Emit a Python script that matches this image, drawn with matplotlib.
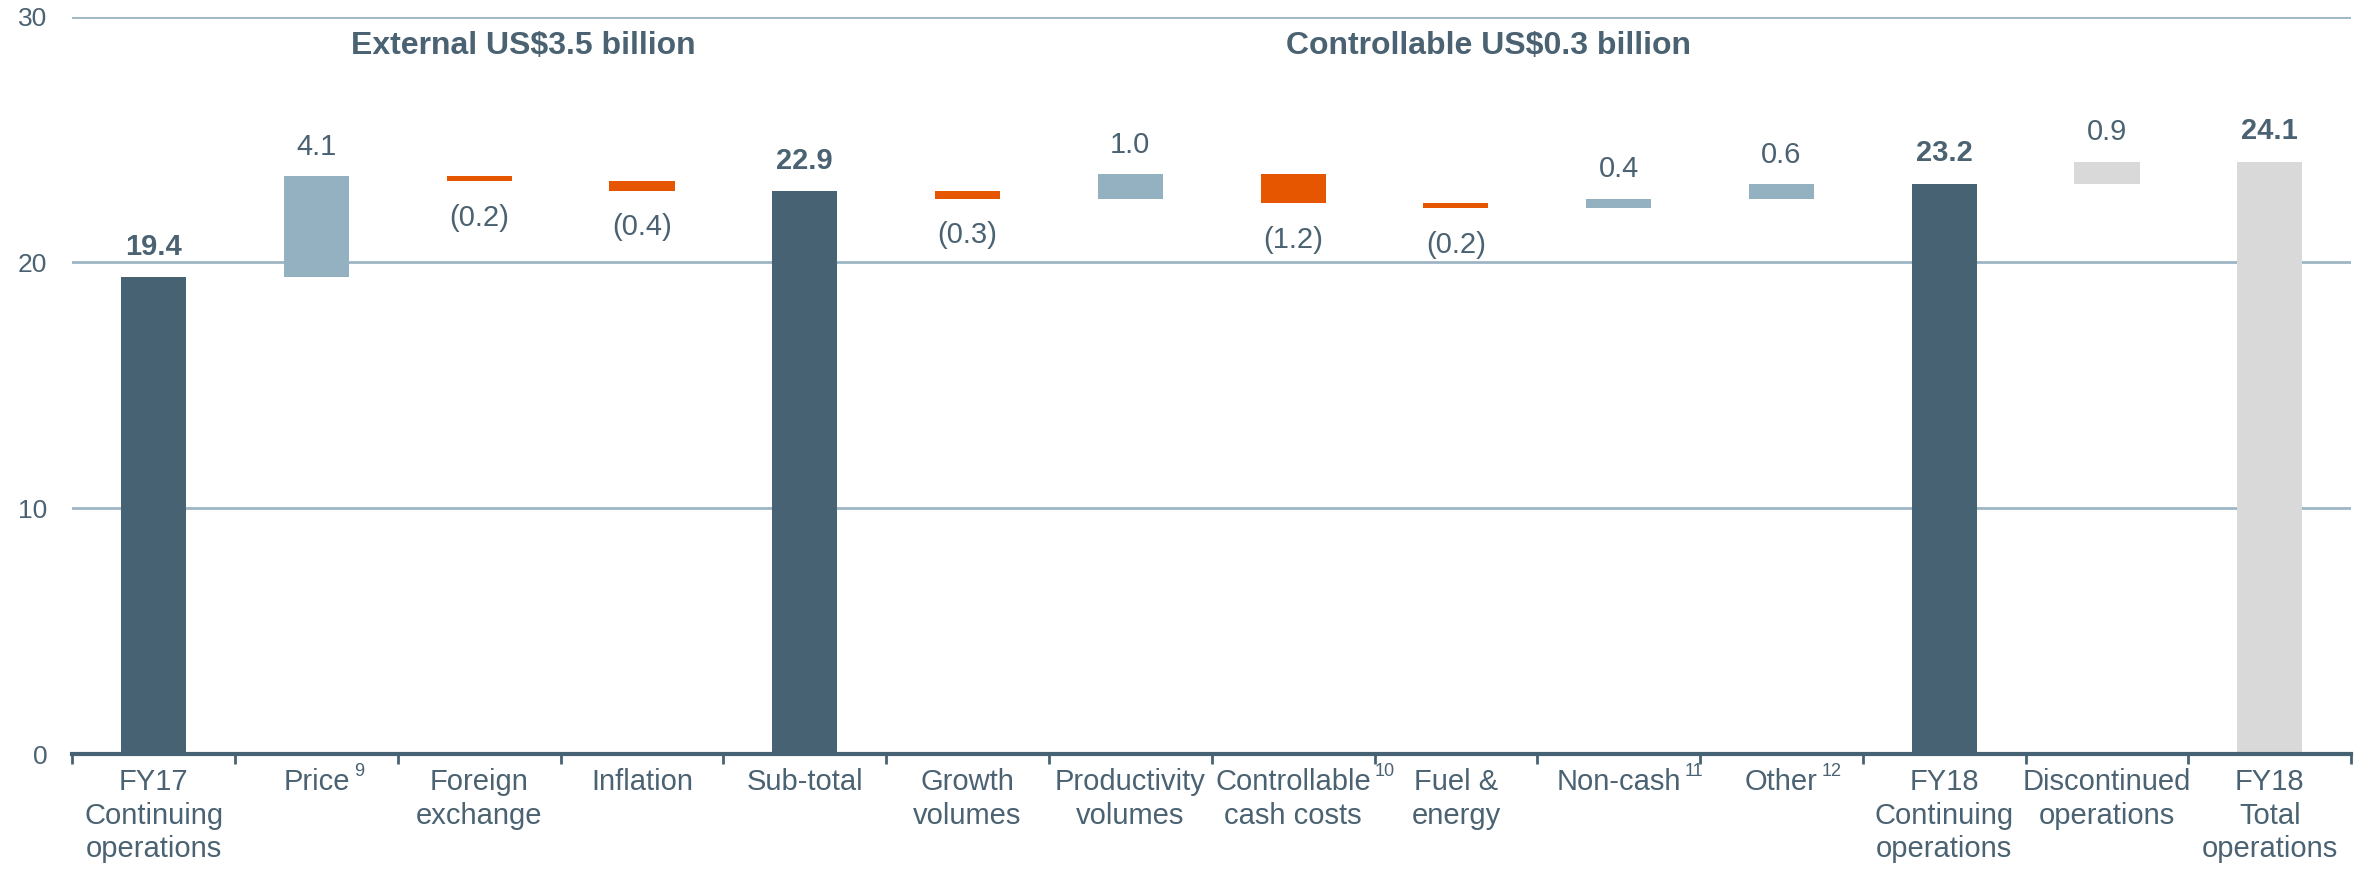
import numpy as np
import matplotlib.pyplot as plt
from matplotlib.transforms import IdentityTransform

plt.rcParams['font.family'] = ['Liberation Sans', 'DejaVu Sans']

# waterfall data (US$ billion)
labels = ['FY17\nContinuing\noperations', 'Price', 'Foreign\nexchange', 'Inflation',
          'Sub-total', 'Growth\nvolumes', 'Productivity\nvolumes',
          'Controllable\ncash costs', 'Fuel &\nenergy', 'Non-cash',
          'Other', 'FY18\nContinuing\noperations', 'Discontinued\noperations',
          'FY18\nTotal\noperations']
notes = ['', '9', '', '', '', '', '', '10', '', '11', '12', '', '', '']
values = [19.4, 4.1, -0.2, -0.4, 22.9, -0.3, 1.0, -1.2, -0.2, 0.4, 0.6, 23.2, 0.9, 24.1]
kinds = ['total', 'delta', 'delta', 'delta', 'total', 'delta', 'delta', 'delta',
         'delta', 'delta', 'delta', 'total', 'disc', 'grand']
groups = ['External US$3.5 billion', 'Controllable US$0.3 billion']
group_pos = [2.27, 8.2]

DARK = '#476373'
LIGHT = '#93B1C0'
ORANGE = '#E65500'
GREY = '#D9D9D9'
TXT = '#4A6271'

fig = plt.figure(figsize=(23.69, 8.74), dpi=100)
ax = fig.add_axes([0.0305, 0.137, 0.962, 0.844])

x = np.arange(len(values))
running = 0
for i, (v, k) in enumerate(zip(values, kinds)):
    if k in ('total', 'grand'):
        bottom, height = 0, v
        running = v
        col = DARK if k == 'total' else GREY
    else:
        start = running
        running = start + v
        bottom, height = min(start, running), abs(v)
        if k == 'disc':
            col = GREY
        else:
            col = LIGHT if v > 0 else ORANGE
    ax.bar(i, height, bottom=bottom, width=0.4, color=col, zorder=3)
    top = bottom + height
    if k in ('total', 'grand'):
        ax.annotate(f'{v:.1f}', (i, top), xytext=(0, 12), textcoords='offset points',
                    ha='center', va='bottom', fontsize=21, fontweight='bold', color=TXT)
    elif v > 0:
        ax.annotate(f'{v:.1f}', (i, top), xytext=(0, 11), textcoords='offset points',
                    ha='center', va='bottom', fontsize=21, color=TXT)
    else:
        ax.annotate(f'({abs(v):.1f})', (i, bottom), xytext=(0, -16), textcoords='offset points',
                    ha='center', va='top', fontsize=21, color=TXT)

for g, gx in zip(groups, group_pos):
    ax.text(gx, 28.8, g, ha='center', va='center', fontsize=23, fontweight='bold', color=TXT)

ax.set_xlim(-0.5, len(values) - 0.5)
ax.set_ylim(0, 30)
ax.set_yticks([0, 10, 20, 30])
ax.yaxis.grid(True, color='#9DB5C4', linewidth=2, zorder=0)
ax.tick_params(axis='y', length=0, pad=18, labelsize=19, labelcolor=TXT)

ax.set_xticks(x)
ax.set_xticklabels(labels, linespacing=1.25)
ax.set_xticks(np.arange(-0.5, len(values)), minor=True)
ax.tick_params(axis='x', which='major', length=0, pad=10, labelsize=21, labelcolor=TXT)
ax.tick_params(axis='x', which='minor', length=7, width=2, color=DARK)

for s in ['top', 'right', 'left']:
    ax.spines[s].set_visible(False)
ax.spines['bottom'].set_color(DARK)
ax.spines['bottom'].set_linewidth(3)
ax.spines['bottom'].set_zorder(4)

# footnote markers next to the tick labels
fig.canvas.draw()
renderer = fig.canvas.get_renderer()
for lbl, n in zip(ax.get_xticklabels(), notes):
    if n:
        bb = lbl.get_window_extent(renderer)
        fig.text(bb.x1 + 4, bb.y1 + 5, n, transform=IdentityTransform(),
                 ha='left', va='top', fontsize=13, color=TXT)

fig.savefig('out.png', dpi=100)
